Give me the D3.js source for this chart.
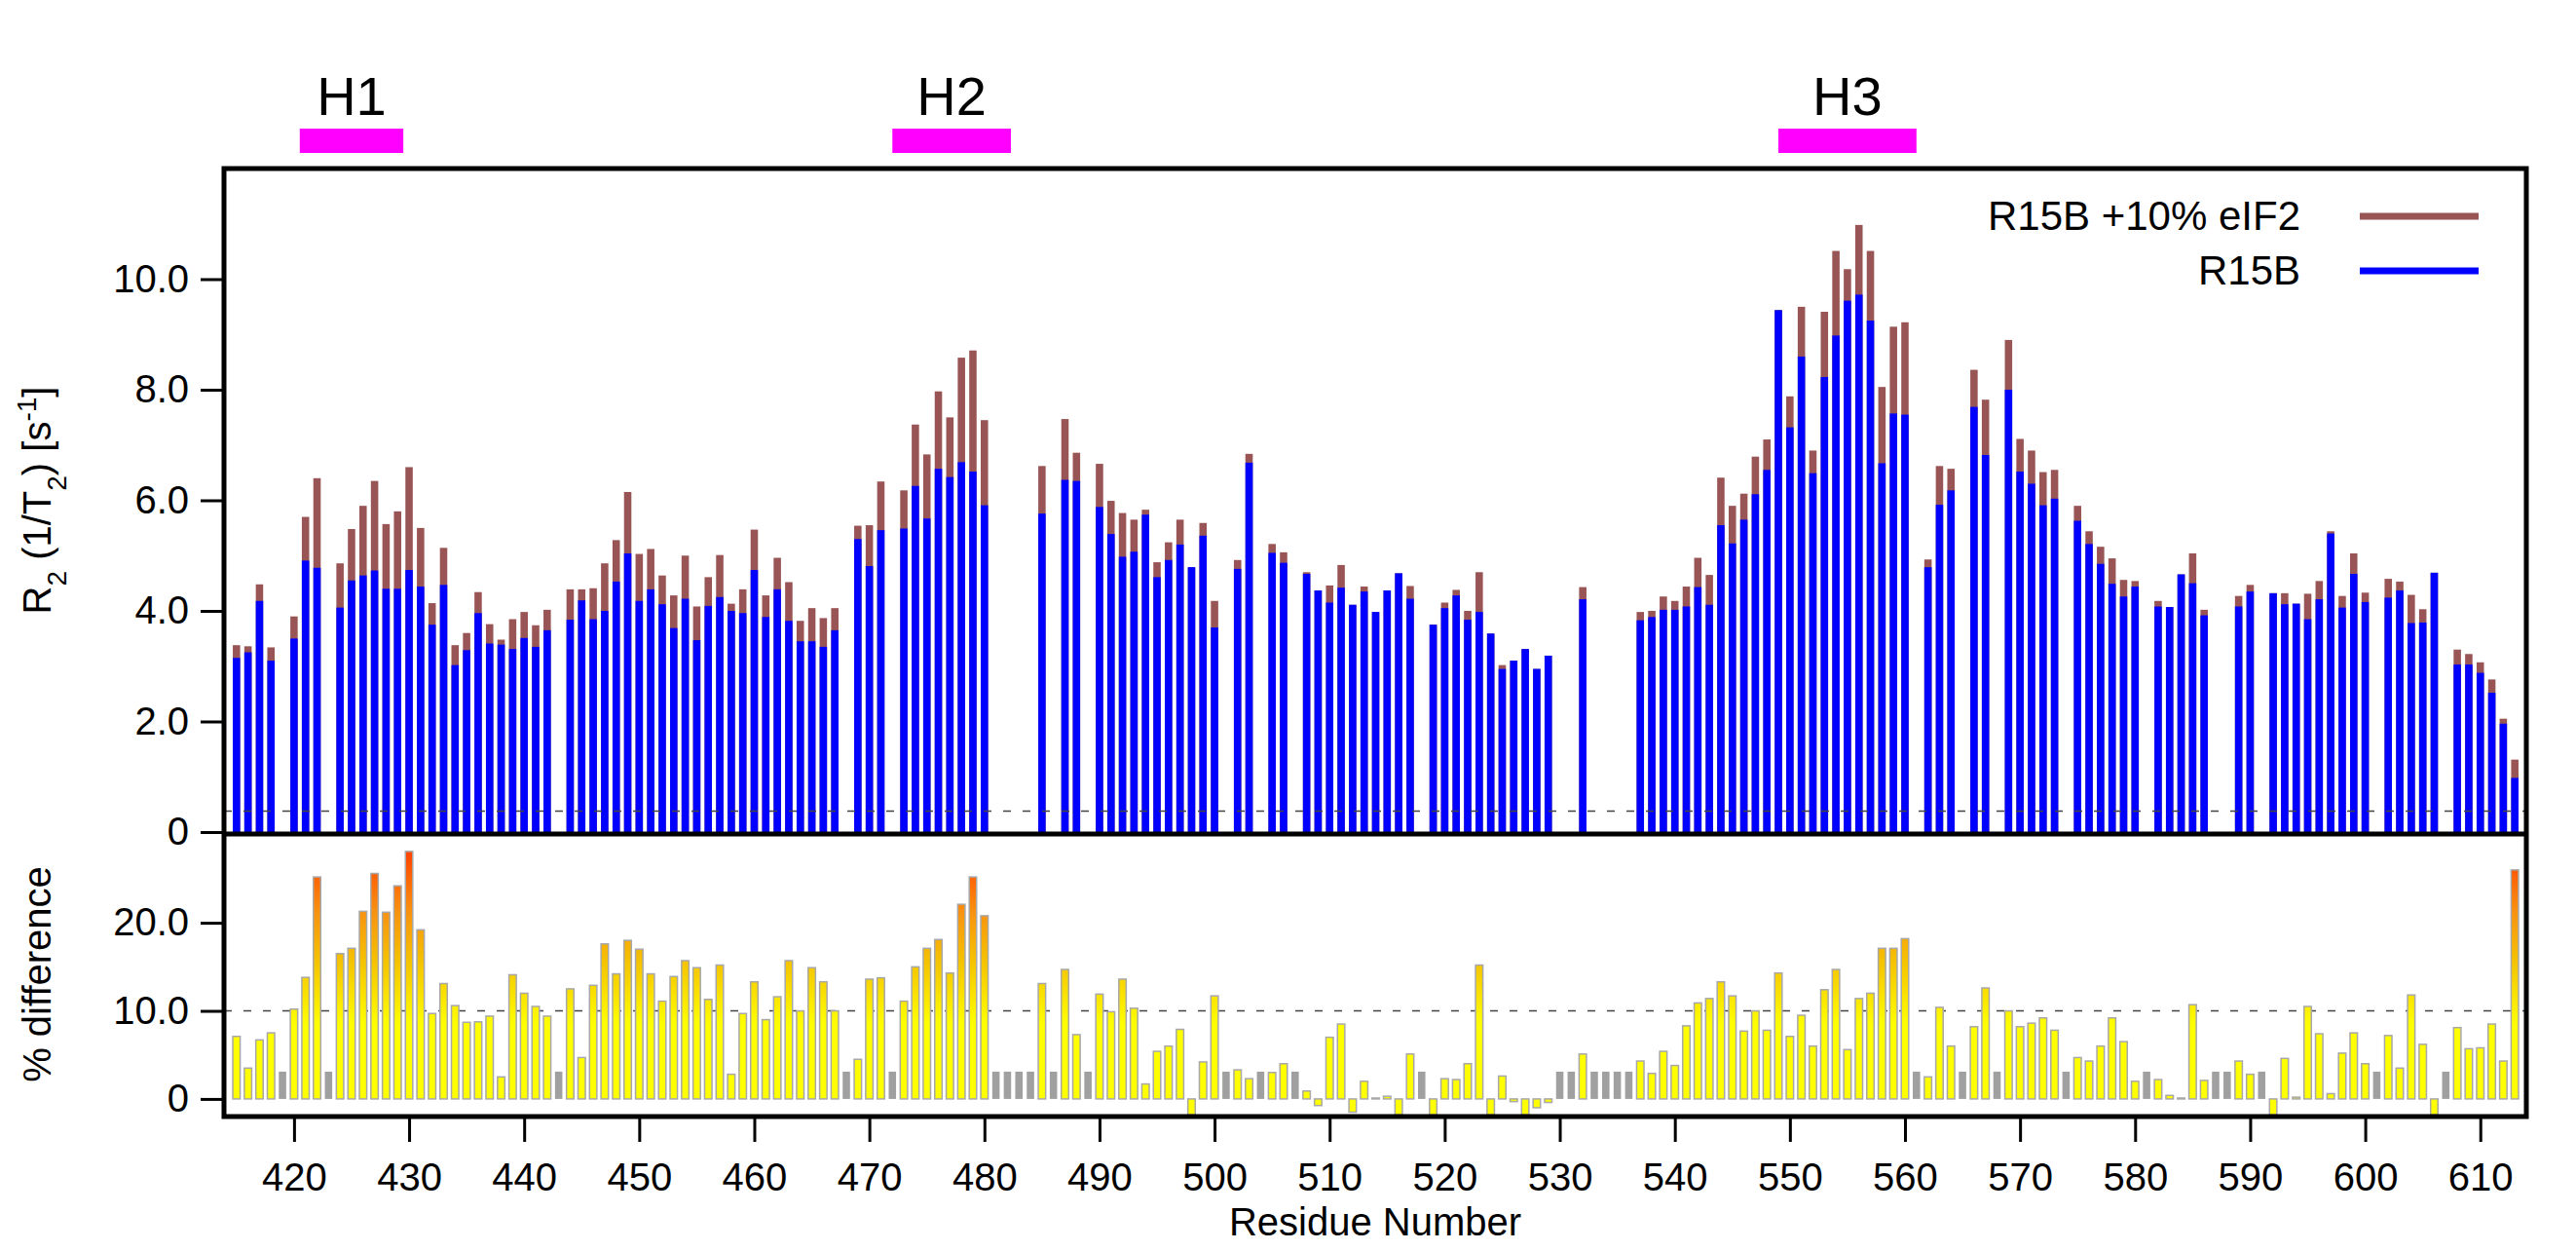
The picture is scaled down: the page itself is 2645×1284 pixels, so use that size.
<!DOCTYPE html>
<html>
<head>
<meta charset="utf-8">
<script src="https://cdn.jsdelivr.net/npm/d3@7"></script>
<style>
  body { margin: 0; background: #fff; }
  svg text { font-family: "Liberation Sans", Arial, sans-serif; fill: #000; }
</style>
</head>
<body>
<svg id="chart" width="2645" height="1284"></svg>
<script>
'use strict';

/* Data: residues 415..613, null = not assigned */
var firstResidue = 415, lastResidue = 613;

var r15b = [
  3.15,3.25,4.18,3.10,null,
  3.50,4.91,4.78,null,4.06,4.55,4.64,4.73,4.40,4.40,
  4.74,4.44,3.75,4.47,3.02,3.29,3.96,3.41,3.39,3.31,
  3.51,3.35,3.65,null,3.84,4.19,3.85,4.00,4.53,5.04,
  4.18,4.39,4.12,3.69,4.22,3.47,4.09,4.25,4.00,3.96,
  4.74,3.89,4.39,3.82,3.45,3.45,3.35,3.65,null,5.30,
  4.81,5.46,null,5.49,6.26,5.67,6.57,6.42,6.69,6.52,
  5.91,null,null,null,null,5.76,null,6.37,6.35,null,
  5.88,5.39,4.98,5.07,5.74,4.61,4.92,5.20,4.79,5.36,
  3.70,null,4.76,6.68,null,5.05,4.87,null,4.67,4.37,
  4.15,4.42,4.11,4.35,3.98,4.37,4.68,4.22,null,3.75,
  4.05,4.28,3.84,3.98,3.59,2.95,3.10,3.31,2.95,3.19,
  null,null,4.21,null,null,null,null,3.83,3.89,4.02,
  4.02,4.08,4.43,4.11,5.55,5.22,5.65,6.11,6.55,9.44,
  7.32,8.60,6.49,8.23,8.98,9.61,9.72,9.25,6.67,7.57,
  7.55,null,4.79,5.92,6.18,null,7.69,6.82,null,8.00,
  6.52,6.30,5.91,6.03,null,5.63,5.21,4.85,4.49,4.26,
  4.44,null,4.08,4.07,4.66,4.50,3.92,null,null,4.08,
  4.35,null,4.32,4.12,4.13,3.85,4.21,5.40,4.06,4.67,
  4.16,null,4.24,4.37,3.78,3.79,4.69,null,3.03,3.03,
  2.88,2.52,1.96,0.98
];

var r15bEif2 = [
  3.38,3.36,4.48,3.34,null,
  3.90,5.70,6.40,null,4.86,5.48,5.90,6.35,5.57,5.80,
  6.60,5.50,4.14,5.14,3.38,3.60,4.34,3.76,3.48,3.85,
  3.98,3.74,4.02,null,4.39,4.39,4.41,4.86,5.28,6.15,
  5.03,5.12,4.64,4.28,5.00,4.08,4.61,5.01,4.13,4.39,
  5.47,4.28,4.96,4.52,3.82,4.05,3.87,4.05,null,5.54,
  5.55,6.34,null,6.18,7.37,6.83,7.97,7.50,8.58,8.71,
  7.45,null,null,null,null,6.62,null,7.47,6.86,null,
  6.66,5.99,5.77,5.65,5.83,4.88,5.24,5.65,4.79,5.59,
  4.18,null,4.92,6.84,null,5.21,5.06,null,4.70,4.37,
  4.46,4.83,4.11,4.44,3.98,4.37,4.68,4.45,null,3.75,
  4.15,4.38,4.00,4.70,3.59,3.02,3.10,3.31,2.95,3.19,
  null,null,4.43,null,null,null,null,3.98,4.00,4.26,
  4.18,4.44,4.96,4.65,6.41,5.90,6.12,6.79,7.10,9.44,
  7.88,9.50,6.90,9.41,10.51,10.18,10.98,10.51,8.05,9.14,
  9.22,null,4.93,6.62,6.57,null,8.36,7.82,null,8.90,
  7.11,6.90,6.51,6.55,null,5.90,5.44,5.16,4.95,4.56,
  4.54,null,4.18,4.07,4.66,5.04,4.02,null,null,4.27,
  4.47,null,4.32,4.32,4.13,4.31,4.54,5.44,4.27,5.04,
  4.33,null,4.58,4.53,4.29,4.03,4.69,null,3.30,3.22,
  3.07,2.76,2.05,1.31
];

var pctDiff = [
  7.1,3.5,6.7,7.5,null,
  10.2,13.8,25.2,null,16.5,17.1,21.3,25.6,21.2,24.2,
  28.1,19.2,9.7,13.1,10.6,8.7,8.75,9.4,2.5,14.1,
  12.0,10.5,9.4,null,12.5,4.7,12.9,17.6,14.2,18.0,
  17.0,14.2,11.1,13.9,15.7,14.9,11.3,15.2,2.8,9.7,
  13.3,9.0,11.6,15.7,10.0,14.9,13.3,10.0,null,4.5,
  13.6,13.75,null,11.1,15.0,17.1,18.1,14.3,22.1,25.2,
  20.8,null,null,null,null,13.1,null,14.7,7.3,null,
  11.9,9.9,13.6,10.3,1.7,5.4,6.0,7.9,-1.8,4.2,
  11.7,null,3.3,2.3,null,3.0,4.0,null,0.9,-0.75,
  7.0,8.5,-1.5,2.0,0.1,0.3,-1.8,5.1,null,-1.8,
  2.3,2.2,4.0,15.2,-1.8,2.6,-0.3,-1.8,-1.0,-0.4,
  null,null,5.1,null,null,null,null,4.3,2.9,5.4,
  3.8,8.3,10.9,11.4,13.3,11.7,7.7,10.0,7.8,14.3,
  7.1,9.5,6.0,12.4,14.7,5.6,11.4,12.0,17.1,17.1,
  18.2,null,2.5,10.4,6.0,null,8.2,12.6,null,10.0,
  8.2,8.6,9.2,7.8,null,4.7,4.3,6.0,9.2,6.5,
  2.0,null,2.2,0.4,0.1,10.7,2.1,null,null,4.3,
  2.8,null,-1.8,4.6,0.2,10.5,7.4,0.6,5.2,7.5,
  4.0,null,7.2,3.5,11.8,6.2,-1.8,null,8.1,5.7,
  5.8,8.5,4.3,26.0
];
var missingPct = 3.1;   // height of the grey placeholder bars

var helices = [
  {name: "H1", start: 421, end: 429},
  {name: "H2", start: 472.5, end: 481.8},
  {name: "H3", start: 549.5, end: 560.5}
];
var xTicks = d3.range(420, 611, 10);
var r2Ticks = [0, 2, 4, 6, 8, 10];
var pctTicks = [0, 10, 20];
var r2Threshold = 0.38;
var pctThreshold = 10;
var legendItems = [
  {label: "R15B +10% eIF2", color: "#995555"},
  {label: "R15B", color: "#0000ff"}
];

(function() {
var residues = d3.range(firstResidue, lastResidue + 1);
var rows = residues.map(function(r, i) {
  return {res: r, r15b: r15b[i], eif2: r15bEif2[i], pct: pctDiff[i]};
});

/* Layout */
var pLeft = 230, pRight = 2594, pTop = 173, pMid = 854, pBottom = 1146;
var svg = d3.select("#chart");

var x = d3.scaleLinear().domain([414, 614]).range([pLeft + 1, pRight]);
var step = x(416) - x(415);
var yTop = d3.scaleLinear().domain([0, 12]).range([pMid, pTop]);
var yBot = d3.scaleLinear().domain([-2, 30.3]).range([pBottom, pMid]);

var defs = svg.append("defs");
var grad = defs.append("linearGradient").attr("id", "pctGrad")
    .attr("gradientUnits", "userSpaceOnUse")
    .attr("x1", 0).attr("x2", 0).attr("y1", yBot(0)).attr("y2", yBot(28));
[[0, "#ffff00"], [0.3, "#ffff00"], [0.55, "#f5c400"], [0.75, "#f89410"], [1, "#ff4400"]]
  .forEach(function(s) { grad.append("stop").attr("offset", s[0]).attr("stop-color", s[1]); });
defs.append("clipPath").attr("id", "botClip").append("rect")
    .attr("x", pLeft).attr("y", pMid).attr("width", pRight - pLeft).attr("height", pBottom - pMid);

/* Top panel bars */
var topData = rows.filter(function(d) { return d.r15b !== null; });
var bw = step * 0.64;
svg.append("g").selectAll("rect").data(topData).enter().append("rect")
    .attr("x", function(d) { return x(d.res) - bw / 2; })
    .attr("width", bw)
    .attr("y", function(d) { return yTop(d.eif2); })
    .attr("height", function(d) { return yTop(0) - yTop(d.eif2); })
    .attr("fill", "#995555");
svg.append("g").selectAll("rect").data(topData).enter().append("rect")
    .attr("x", function(d) { return x(d.res) - bw / 2; })
    .attr("width", bw)
    .attr("y", function(d) { return yTop(d.r15b); })
    .attr("height", function(d) { return yTop(0) - yTop(d.r15b); })
    .attr("fill", "#0000ff");

svg.append("line")
    .attr("x1", pLeft).attr("x2", pRight)
    .attr("y1", yTop(r2Threshold)).attr("y2", yTop(r2Threshold))
    .attr("stroke", "#444").attr("stroke-width", 1.5).attr("stroke-dasharray", "8,12");

/* Bottom panel bars */
var gb = svg.append("g").attr("clip-path", "url(#botClip)");
gb.append("line")
    .attr("x1", pLeft).attr("x2", pRight)
    .attr("y1", yBot(pctThreshold)).attr("y2", yBot(pctThreshold))
    .attr("stroke", "#444").attr("stroke-width", 1.5).attr("stroke-dasharray", "8,12");
gb.selectAll("rect").data(rows).enter().append("rect")
    .attr("x", function(d) { return x(d.res) - bw / 2; })
    .attr("width", bw)
    .attr("y", function(d) {
        var v = d.pct === null ? missingPct : d.pct;
        return yBot(Math.max(v, 0));
    })
    .attr("height", function(d) {
        var v = d.pct === null ? missingPct : d.pct;
        return Math.abs(yBot(v) - yBot(0));
    })
    .attr("fill", function(d) { return d.pct === null ? "#a0a0a0" : "url(#pctGrad)"; })
    .attr("stroke", function(d) { return d.pct === null ? "none" : "#a8a8a8"; })
    .attr("stroke-width", 1.5);

/* Frames */
svg.append("rect")
    .attr("x", pLeft).attr("y", pTop).attr("width", pRight - pLeft).attr("height", pBottom - pTop)
    .attr("fill", "none").attr("stroke", "#000").attr("stroke-width", 5);
svg.append("line")
    .attr("x1", pLeft).attr("x2", pRight).attr("y1", pMid + 2).attr("y2", pMid + 2)
    .attr("stroke", "#000").attr("stroke-width", 5);

/* Axes */
var fmt = function(v) { return v === 0 ? "0" : d3.format(".1f")(v); };
function styleAxis(g) {
  g.select(".domain").remove();
  g.selectAll(".tick line").attr("stroke", "#000").attr("stroke-width", 3);
  g.selectAll(".tick text").style("font-size", "40px").attr("fill", "#000");
}
svg.append("g").attr("transform", "translate(" + (pLeft - 2) + ",0)")
    .call(d3.axisLeft(yTop).tickValues(r2Ticks).tickFormat(fmt).tickSize(22).tickPadding(12))
    .call(styleAxis);
svg.append("g").attr("transform", "translate(" + (pLeft - 2) + ",0)")
    .call(d3.axisLeft(yBot).tickValues(pctTicks).tickFormat(fmt).tickSize(22).tickPadding(12))
    .call(styleAxis);
svg.append("g").attr("transform", "translate(0," + (pBottom + 2) + ")")
    .call(d3.axisBottom(x).tickValues(xTicks).tickFormat(d3.format("d")).tickSize(24).tickPadding(22))
    .call(styleAxis);

/* Axis titles */
var t1 = svg.append("text")
    .attr("transform", "translate(52," + ((pTop + pMid) / 2) + ") rotate(-90)")
    .attr("text-anchor", "middle").style("font-size", "40px");
t1.append("tspan").text("R");
t1.append("tspan").attr("baseline-shift", "sub").style("font-size", "28px").text("2");
t1.append("tspan").text(" (1/T");
t1.append("tspan").attr("baseline-shift", "sub").style("font-size", "28px").text("2");
t1.append("tspan").text(") [s");
t1.append("tspan").attr("baseline-shift", "super").style("font-size", "28px").text("-1");
t1.append("tspan").text("]");

svg.append("text")
    .attr("transform", "translate(52," + ((pMid + pBottom) / 2) + ") rotate(-90)")
    .attr("text-anchor", "middle").style("font-size", "40px").text("% difference");

svg.append("text")
    .attr("x", (pLeft + pRight) / 2).attr("y", 1268)
    .attr("text-anchor", "middle").style("font-size", "40px").text("Residue Number");

/* Helix markers */
var hg = svg.append("g").selectAll("g").data(helices).enter().append("g");
hg.append("rect")
    .attr("x", function(d) { return x(d.start) - step / 2; })
    .attr("width", function(d) { return x(d.end) - x(d.start) + step; })
    .attr("y", 132).attr("height", 25)
    .attr("fill", "#ff00ff");
hg.append("text")
    .attr("x", function(d) { return (x(d.start) + x(d.end)) / 2; })
    .attr("y", 118)
    .attr("text-anchor", "middle").style("font-size", "56px")
    .text(function(d) { return d.name; });

/* Legend */
var lg = svg.append("g").selectAll("g").data(legendItems).enter().append("g")
    .attr("transform", function(d, i) { return "translate(0," + (222 + i * 56) + ")"; });
lg.append("text")
    .attr("x", 2362).attr("y", 14)
    .attr("text-anchor", "end").style("font-size", "42px")
    .text(function(d) { return d.label; });
lg.append("line")
    .attr("x1", 2423).attr("x2", 2545).attr("y1", 0).attr("y2", 0)
    .attr("stroke", function(d) { return d.color; }).attr("stroke-width", 7);
})();
</script>
</body>
</html>
